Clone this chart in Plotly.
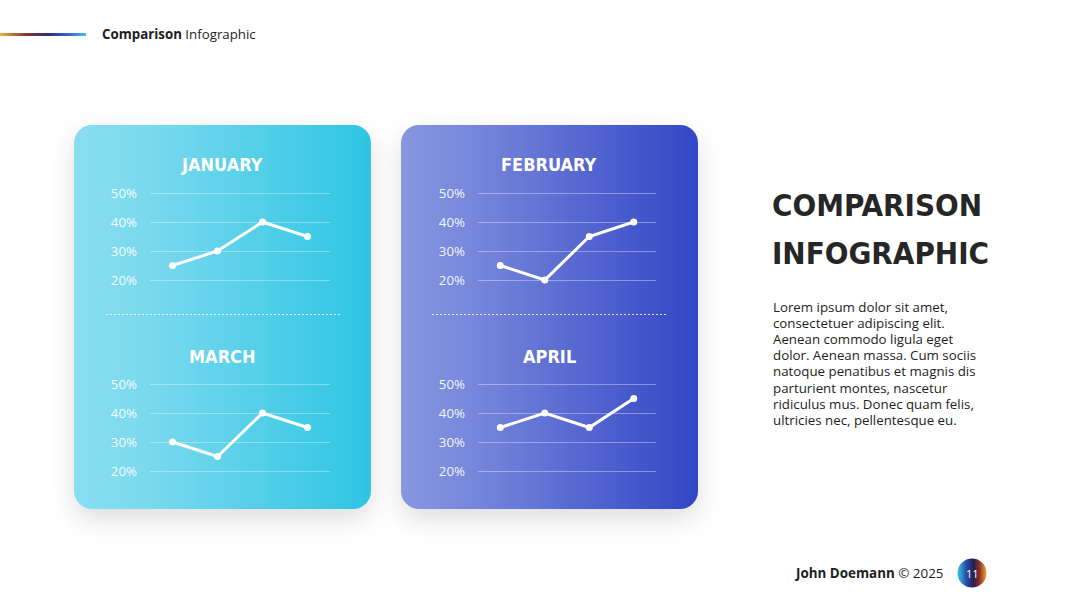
import base64
import plotly.graph_objects as go

W, H = 1080, 608

# ---------------- data ----------------
months = ["JANUARY", "FEBRUARY", "MARCH", "APRIL"]
points = [1, 2, 3, 4]
jan_vals = [25, 30, 40, 35]
feb_vals = [25, 20, 35, 40]
mar_vals = [30, 25, 40, 35]
apr_vals = [35, 40, 35, 45]
tick_vals = [20, 30, 40, 50]
tick_text = ["20%", "30%", "40%", "50%"]
series = [jan_vals, feb_vals, mar_vals, apr_vals]

body_lines = [
    "Lorem ipsum dolor sit amet,",
    "consectetuer adipiscing elit.",
    "Aenean commodo ligula eget",
    "dolor. Aenean massa. Cum sociis",
    "natoque penatibus et magnis dis",
    "parturient montes, nascetur",
    "ridiculus mus. Donec quam felis,",
    "ultricies nec, pellentesque eu.",
]


def px(x):
    return x / W


def py(y):
    return 1 - y / H


# ---------------- background decoration (SVG) ----------------
svg = f"""<svg xmlns="http://www.w3.org/2000/svg" width="{W}" height="{H}" viewBox="0 0 {W} {H}">
<defs>
<linearGradient id="g1" x1="0" x2="1" y1="0" y2="0">
<stop offset="0" stop-color="#89DEF0"/><stop offset="0.25" stop-color="#7AD9EE"/><stop offset="1" stop-color="#2DC5E3"/></linearGradient>
<linearGradient id="g2" x1="0" x2="1" y1="0" y2="0">
<stop offset="0" stop-color="#8797E0"/><stop offset="0.25" stop-color="#7686DB"/><stop offset="1" stop-color="#3246C5"/></linearGradient>
<linearGradient id="hl" x1="0" x2="1" y1="0" y2="0">
<stop offset="0" stop-color="#E6B83A"/><stop offset="0.3" stop-color="#8A3433"/><stop offset="0.55" stop-color="#2A3272"/>
<stop offset="0.8" stop-color="#3A62D0"/><stop offset="1" stop-color="#3EC6E6"/></linearGradient>
<linearGradient id="cg" x1="0" x2="1" y1="0" y2="0">
<stop offset="0" stop-color="#36C6EA"/><stop offset="0.3" stop-color="#2A4CA8"/><stop offset="0.55" stop-color="#23204E"/>
<stop offset="0.75" stop-color="#8A2E2A"/><stop offset="1" stop-color="#F0A632"/></linearGradient>
<filter id="sh" x="-30%" y="-30%" width="160%" height="170%">
<feDropShadow dx="0" dy="10" stdDeviation="12" flood-color="#000" flood-opacity="0.13"/></filter>
</defs>
<rect x="74" y="125" width="297" height="384" rx="18" ry="18" fill="url(#g1)" filter="url(#sh)"/>
<rect x="401" y="125" width="297" height="384" rx="18" ry="18" fill="url(#g2)" filter="url(#sh)"/>
<line x1="106" y1="314.5" x2="340" y2="314.5" stroke="#FFFFFF" stroke-opacity="0.85" stroke-width="1" stroke-dasharray="2,2"/>
<line x1="432" y1="314.5" x2="667" y2="314.5" stroke="#FFFFFF" stroke-opacity="0.85" stroke-width="1" stroke-dasharray="2,2"/>
<rect x="0" y="33" width="86" height="3" fill="url(#hl)"/>
<circle cx="972" cy="573" r="14.5" fill="url(#cg)"/>
</svg>"""
svg_uri = "data:image/svg+xml;base64," + base64.b64encode(svg.encode()).decode()

fig = go.Figure()

# chart panels: (x_left, x_right, y_top(55%), y_bottom(15%)) in pixels
panels = [
    (150, 330, 178.5, 294.5),
    (478, 656, 178.5, 294.5),
    (150, 330, 369.5, 485.5),
    (478, 656, 369.5, 485.5),
]
title_pos = [(222, 165), (549, 165), (222, 356), (549, 356)]

for i, (vals, (xl, xr, yt, yb)) in enumerate(zip(series, panels)):
    n = "" if i == 0 else str(i + 1)
    fig.add_trace(go.Scatter(
        x=points, y=vals, mode="lines+markers",
        line=dict(color="white", width=3),
        marker=dict(color="white", size=7),
        xaxis="x" + n, yaxis="y" + n, cliponaxis=False,
        showlegend=False, hoverinfo="skip",
    ))
    fig.layout["xaxis" + n] = dict(
        domain=[px(xl), px(xr)], range=[0.5, 4.5], visible=False,
        anchor="y" + n, fixedrange=True,
    )
    fig.layout["yaxis" + n] = dict(
        domain=[py(yb), py(yt)], range=[15, 55], anchor="x" + n,
        tickvals=tick_vals, ticktext=tick_text, showgrid=True,
        gridcolor="rgba(255,255,255,0.35)", gridwidth=1, zeroline=False,
        showline=False, ticks="", ticklabelstandoff=12,
        tickfont=dict(family="Open Sans", size=13.3, color="rgba(255,255,255,0.95)"),
        fixedrange=True,
    )
    tx, ty = title_pos[i]
    fig.add_annotation(
        x=px(tx), y=py(ty), xref="paper", yref="paper", text="<b>" + months[i] + "</b>",
        showarrow=False, xanchor="center", yanchor="middle",
        font=dict(family="DejaVu Sans Condensed", size=18, color="white"),
    )

annots = []
annots.append(dict(x=px(100), y=py(34), text="<b>Comparison</b> Infographic",
                   xanchor="left", yanchor="middle",
                   font=dict(family="Open Sans", size=13.3, color="#1E1E1E")))
annots.append(dict(x=px(770), y=py(205), text="<b>COMPARISON</b>",
                   xanchor="left", yanchor="middle",
                   font=dict(family="DejaVu Sans Condensed", size=31, color="#262626")))
annots.append(dict(x=px(770), y=py(253), text="<b>INFOGRAPHIC</b>",
                   xanchor="left", yanchor="middle",
                   font=dict(family="DejaVu Sans Condensed", size=31, color="#262626")))
for k, line in enumerate(body_lines):
    annots.append(dict(x=px(771), y=py(307 + k * 16.1), text=line,
                       xanchor="left", yanchor="middle",
                       font=dict(family="Open Sans", size=13.3, color="#1E1E1E")))
annots.append(dict(x=px(946), y=py(573), text="<b>John Doemann</b> © 2025",
                   xanchor="right", yanchor="middle",
                   font=dict(family="Open Sans", size=13.4, color="#1E1E1E")))
annots.append(dict(x=px(972), y=py(573), text="11",
                   xanchor="center", yanchor="middle",
                   font=dict(family="Open Sans", size=11, color="white")))
for a in annots:
    fig.add_annotation(xref="paper", yref="paper", showarrow=False, **a)

fig.update_layout(
    width=W, height=H, margin=dict(l=0, r=0, t=0, b=0),
    paper_bgcolor="white", plot_bgcolor="rgba(0,0,0,0)",
    images=[dict(source=svg_uri, xref="paper", yref="paper", x=0, y=1,
                 sizex=1, sizey=1, xanchor="left", yanchor="top",
                 sizing="stretch", layer="below")],
)

fig.write_html("out.html", config={"displayModeBar": False})
